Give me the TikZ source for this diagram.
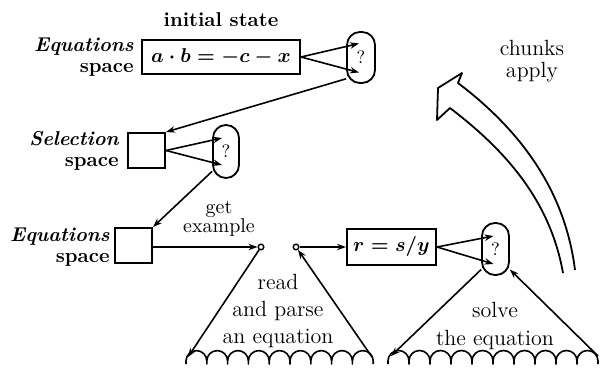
\documentclass[tikz,border=0pt]{standalone}
\usepackage{amsmath}
\usepackage{tikz}
\usetikzlibrary{arrows.meta,positioning}
\tikzset{
  eqbox/.style={draw,line width=1pt,inner sep=0pt,font=\boldmath},
  qcap/.style={draw,line width=0.9pt,rounded corners=6.5pt,inner sep=0pt,
               minimum width=14pt,minimum height=25.5pt,font=\small},
  spacelbl/.style={anchor=east,align=right,inner sep=0pt,
                   font=\fontsize{10}{10.5}\selectfont\bfseries},
  note/.style={align=center,inner sep=0pt,font=\fontsize{11}{13.5}\selectfont},
  tap/.style={circle,draw,line width=0.7pt,inner sep=0pt,minimum size=2.8pt},
  arr/.style={-{Stealth[length=4.5pt,width=3.2pt]},line width=0.8pt},
  wave/.style={line width=0.8pt,line join=round},
  bigarr/.style={line width=0.9pt,line join=round}
}
\begin{document}
\begin{tikzpicture}[x=0.5pt,y=-0.5pt]
  \path[use as bounding box] (0,0) rectangle (604,368);

  % top row: initial state
  \node[font=\bfseries,inner sep=0pt] (init) at (221,20) {initial state};
  \node[eqbox,minimum width=79pt,minimum height=17pt] (eq1) at (221,57)
    {$a\cdot b=-c-x$};
  \node[spacelbl] (eq1lbl) at (134,57.5) {{\itshape Equations}\\space};
  \node[qcap] (cap1) at (361,57.5) {?};
  \draw[arr] (eq1.east) -- ([xshift=-1pt,yshift=7pt]cap1.center);
  \draw[arr] (eq1.east) -- ([xshift=-1pt,yshift=-7.5pt]cap1.center);

  % selection
  \node[eqbox,minimum width=18.5pt,minimum height=17.5pt] (sel) at (146.5,150.5) {};
  \node[spacelbl] (sellbl) at (119,151) {{\itshape Selection}\\space};
  \node[qcap,minimum width=13pt,minimum height=26.5pt] (cap2) at (226,151.5) {?};
  \draw[arr] (cap1.235) -- (sel.north east);
  \draw[arr] (sel.east) -- ([xshift=-2pt,yshift=6.75pt]cap2.center);
  \draw[arr] (sel.east) -- ([xshift=-2pt,yshift=-6.75pt]cap2.center);

  % equations again
  \node[eqbox,minimum width=18.5pt,minimum height=17.5pt] (eq2) at (133.5,245.5) {};
  \node[spacelbl] (eq2lbl) at (110,247) {{\itshape Equations}\\space};
  \draw[arr] (cap2.235) -- (eq2.north east);
  \node[note,font=\fontsize{10}{9.5}\selectfont] (getex) at (219,219) {get\\example};

  \node[tap] (c1) at (261,247) {};
  \node[tap] (c2) at (296,247) {};
  \node[eqbox,minimum width=44.5pt,minimum height=18pt] (rbox) at (391.5,247)
    {$r=s/y$};
  \node[qcap,minimum width=13.5pt,minimum height=26pt] (cap3) at (495.5,249) {?};
  \draw[arr] (eq2.east |- c1) -- (c1);
  \draw[arr] (c2) -- (rbox.west);
  \draw[arr] (rbox.east) -- ([xshift=-1pt,yshift=6.5pt]cap3.center);
  \draw[arr] (rbox.east) -- ([xshift=-1pt,yshift=-7.5pt]cap3.center);

  % read and parse
  \coordinate (t1l) at (188,357);
  \coordinate (t1r) at (372,357);
  \draw[arr] (c1) -- (t1l);
  \draw[arr] (t1r) -- (c2);
  \draw[wave] (186,364) foreach \k in {1,...,9}
    {-- ++(0,-3) arc[start angle=180,end angle=0,radius=5.2pt] -- ++(0,3)};
  \node[note] (readlbl) at (278,311) {read\\and parse\\an equation};

  % solve
  \coordinate (t2l) at (391,356);
  \coordinate (t2r) at (598,356);
  \draw[arr] (cap3.235) -- (t2l);
  \draw[arr] (t2r) -- (cap3.305);
  \draw[wave] (388,364) foreach \k in {1,...,10}
    {-- ++(0,-3) arc[start angle=180,end angle=0,radius=5.25pt] -- ++(0,3)};
  \node[note] (solvelbl) at (495,326) {solve\\the equation};

  % chunks apply
  \draw[bigarr] (563,273) .. controls (550,200) and (505,150) .. (450,108)
    -- (437,120) -- (438,88) -- (462,73) -- (458,83)
    .. controls (520,130) and (565,190) .. (575,270);
  \node[note,font=\fontsize{11}{11}\selectfont] (chunks) at (532,61) {chunks\\apply};
\end{tikzpicture}
\end{document}
